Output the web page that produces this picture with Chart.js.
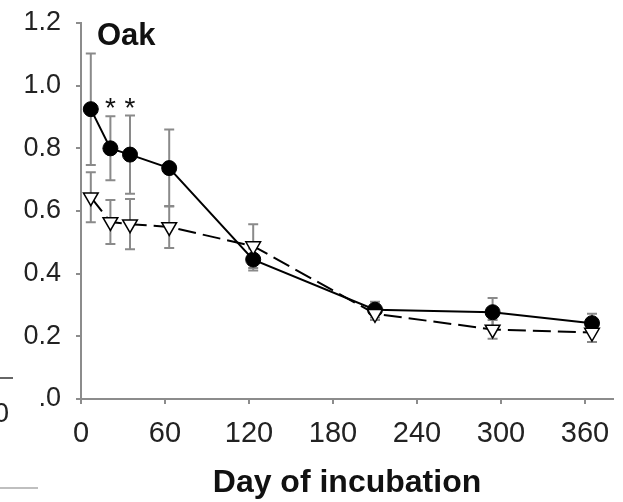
<!DOCTYPE html>
<html><head><meta charset="utf-8">
<script src="https://cdn.jsdelivr.net/npm/chart.js@4.4.1/dist/chart.umd.min.js"></script>
<style>html,body{margin:0;padding:0;background:#fff}canvas{display:block}</style>
</head><body>
<canvas id="c" width="623" height="502"></canvas>
<script>
// ---- data ----
const days = [7, 21, 35, 63, 123, 210, 294, 365];
const filledMeans = [0.925, 0.80, 0.78, 0.737, 0.445, 0.285, 0.277, 0.242];
const filledErr   = [0.178, 0.102, 0.125, 0.123, 0.035, 0.025, 0.045, 0.03];
const openMeans   = [0.644, 0.565, 0.558, 0.549, 0.488, 0.272, 0.222, 0.212];
const openErr     = [0.08, 0.07, 0.08, 0.067, 0.07, 0.02, 0.03, 0.03];
const xTicks = [0, 60, 120, 180, 240, 300, 360];
const yTicks = [0, 0.2, 0.4, 0.6, 0.8, 1.0, 1.2];
const yTickLabels = ['.0', '0.2', '0.4', '0.6', '0.8', '1.0', '1.2'];
const starDays = [21, 35];
const starLevel = 0.945;
const panelLabel = 'Oak';
const xTitle = 'Day of incubation';

const FONT = "'Liberation Sans', Arial, sans-serif";
const AXIS_GRAY = '#8c8c8c';

const errorBars = {
  id: 'errorBars',
  beforeDatasetsDraw(chart) {
    const ctx = chart.ctx, xs = chart.scales.x, ys = chart.scales.y;
    ctx.save();
    ctx.strokeStyle = '#8a8a8a';
    ctx.lineWidth = 2;
    const draw = (means, errs) => {
      means.forEach((m, i) => {
        const x = xs.getPixelForValue(days[i]);
        const yt = ys.getPixelForValue(m + errs[i]);
        const yb = ys.getPixelForValue(m - errs[i]);
        ctx.beginPath();
        ctx.moveTo(x, yt); ctx.lineTo(x, yb);
        ctx.moveTo(x - 5, yt); ctx.lineTo(x + 5, yt);
        ctx.moveTo(x - 5, yb); ctx.lineTo(x + 5, yb);
        ctx.stroke();
      });
    };
    draw(filledMeans, filledErr);
    draw(openMeans, openErr);
    ctx.restore();
  }
};

const annotations = {
  id: 'annotations',
  afterDraw(chart) {
    const ctx = chart.ctx, xs = chart.scales.x, ys = chart.scales.y, a = chart.chartArea;
    ctx.save();
    // significance stars
    ctx.fillStyle = '#111';
    ctx.font = '28px ' + FONT;
    ctx.textAlign = 'center';
    ctx.textBaseline = 'alphabetic';
    starDays.forEach(d => {
      ctx.fillText('*', xs.getPixelForValue(d), ys.getPixelForValue(starLevel) + 14);
    });
    // panel label
    ctx.font = 'bold 31px ' + FONT;
    ctx.textAlign = 'left';
    ctx.fillText(panelLabel, a.left + 16, a.top + 22);
    // remnants of the neighbouring panel at the left edge
    ctx.strokeStyle = '#666';
    ctx.lineWidth = 2;
    ctx.beginPath(); ctx.moveTo(0, 378); ctx.lineTo(13, 378); ctx.stroke();
    ctx.strokeStyle = '#aaa';
    ctx.lineWidth = 1.5;
    ctx.beginPath(); ctx.moveTo(0, 488); ctx.lineTo(38, 488); ctx.stroke();
    ctx.fillStyle = '#222';
    ctx.font = '28px ' + FONT;
    ctx.textAlign = 'right';
    ctx.fillText('0', 9, 422);
    ctx.restore();
  }
};

new Chart(document.getElementById('c'), {
  type: 'line',
  data: {
    datasets: [
      {
        label: 'open',
        data: days.map((d, i) => ({ x: d, y: openMeans[i] })),
        borderColor: '#000',
        borderWidth: 2,
        borderDash: [18, 7],
        pointStyle: 'triangle',
        rotation: 180,
        pointRadius: 8.5,
        pointBackgroundColor: '#fff',
        pointBorderColor: '#000',
        pointBorderWidth: 1.5,
        tension: 0
      },
      {
        label: 'filled',
        data: days.map((d, i) => ({ x: d, y: filledMeans[i] })),
        borderColor: '#000',
        borderWidth: 2,
        pointStyle: 'circle',
        pointRadius: 7.5,
        pointBackgroundColor: '#000',
        pointBorderColor: '#000',
        pointBorderWidth: 1,
        tension: 0
      }
    ]
  },
  options: {
    responsive: false,
    animation: false,
    layout: { padding: { left: 0, right: 6, top: 23, bottom: 0 } },
    plugins: { legend: { display: false }, tooltip: { enabled: false } },
    scales: {
      x: {
        type: 'linear',
        min: 0, max: 380,
        afterBuildTicks(s) { s.ticks = xTicks.map(v => ({ value: v })); },
        afterFit(s) { s.height = 103; s.paddingLeft = 0; s.paddingRight = 0; },
        ticks: { font: { family: FONT, size: 29 }, color: '#222', padding: 13, maxRotation: 0 },
        grid: { drawOnChartArea: false, drawTicks: true, tickLength: 5, color: AXIS_GRAY, lineWidth: 2 },
        border: { color: AXIS_GRAY, width: 2 },
        title: { display: true, text: xTitle, color: '#111', font: { family: FONT, size: 32, weight: 'bold' }, padding: { top: 0, bottom: 0 } }
      },
      y: {
        type: 'linear',
        min: 0, max: 1.2,
        afterBuildTicks(s) { s.ticks = yTicks.map(v => ({ value: v })); },
        afterFit(s) { s.width = 81; s.paddingTop = 0; s.paddingBottom = 0; },
        ticks: {
          font: { family: FONT, size: 27 }, color: '#222', padding: 15,
          callback: (v, i) => yTickLabels[i]
        },
        grid: { drawOnChartArea: false, drawTicks: true, tickLength: 5, color: AXIS_GRAY, lineWidth: 2 },
        border: { color: AXIS_GRAY, width: 2 }
      }
    }
  },
  plugins: [errorBars, annotations]
});
</script>
</body></html>
